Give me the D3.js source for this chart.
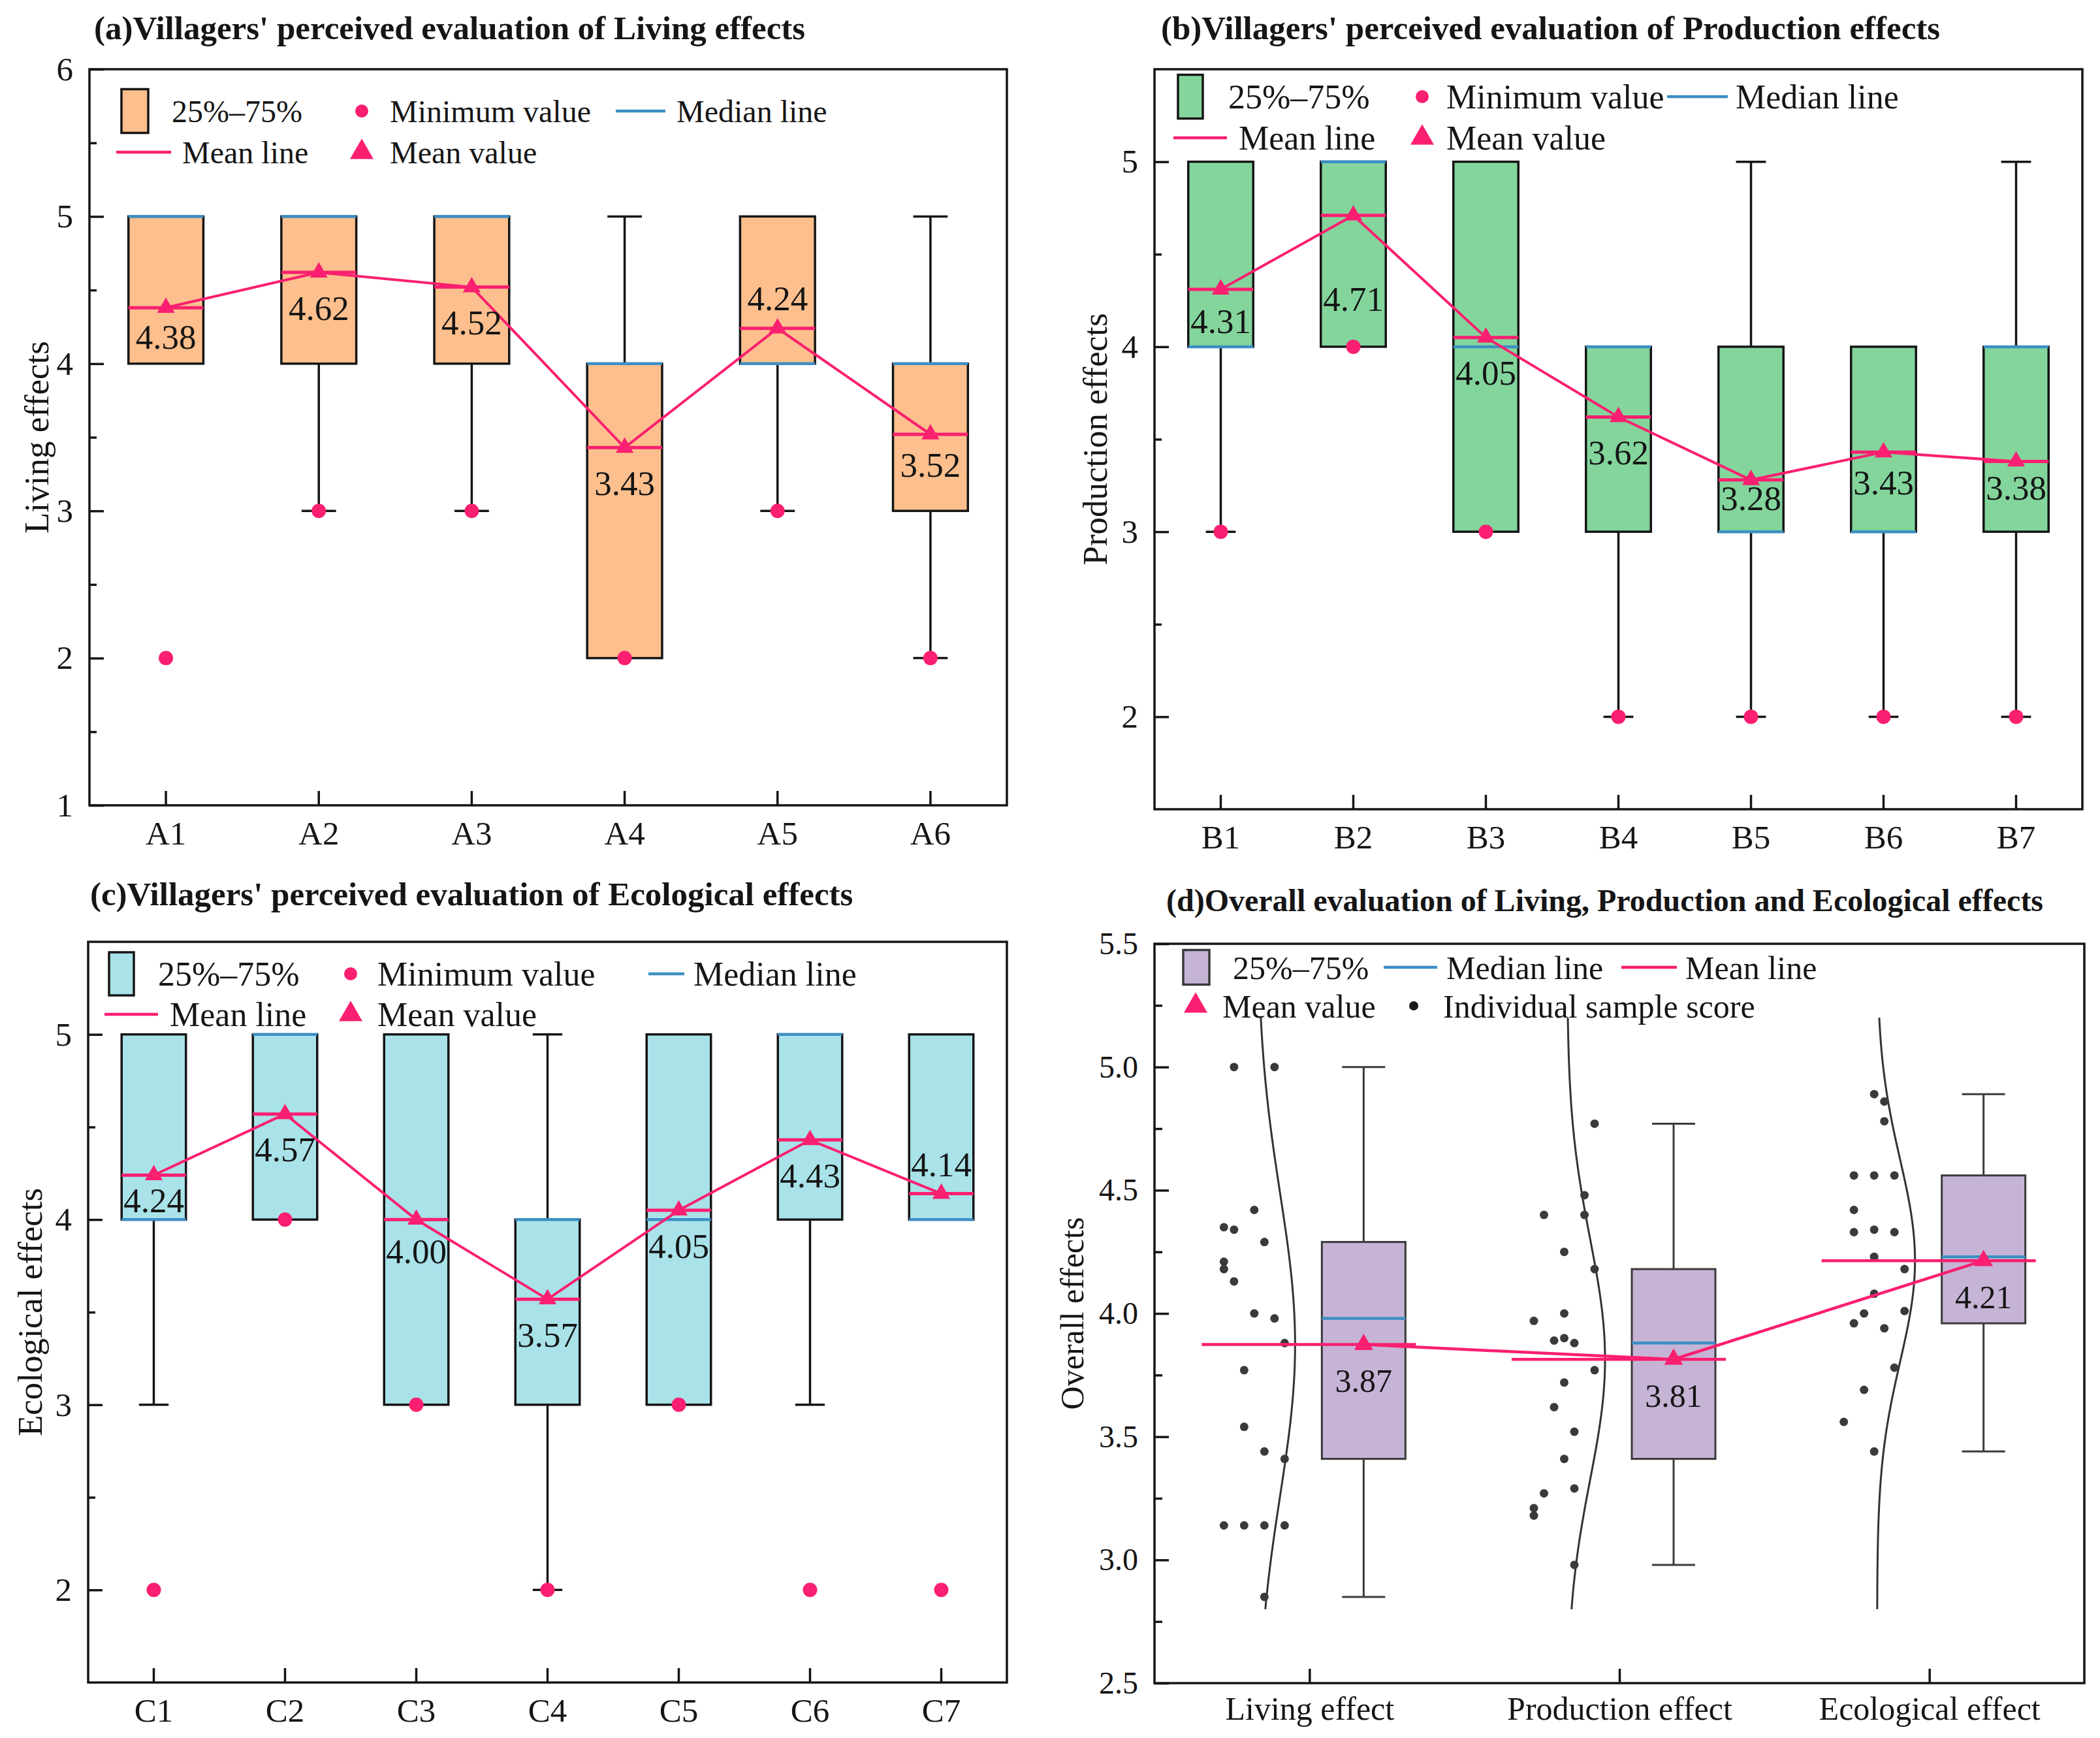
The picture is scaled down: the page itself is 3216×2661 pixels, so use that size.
<!DOCTYPE html>
<html>
<head>
<meta charset="utf-8">
<script src="https://cdn.jsdelivr.net/npm/d3@7"></script>
<style>
  body { margin: 0; background: #fff; }
  svg { font-family: "Liberation Serif", "Times New Roman", Times, "DejaVu Serif", serif; }
  text { fill: #151515; }
</style>
</head>
<body>
<svg id="chart" width="3216" height="2661"></svg>
<script>
// ---- data ----

// (a) living effects
const catsA = ['A1', 'A2', 'A3', 'A4', 'A5', 'A6'];
const q1A = [4, 4, 4, 2, 4, 3];
const q3A = [5, 5, 5, 4, 5, 4];
const medA = [5, 5, 5, 4, 4, 4];
const whiskLoA = [4, 3, 3, 2, 3, 2];
const whiskHiA = [5, 5, 5, 5, 5, 5];
const minA = [2, 3, 3, 2, 3, 2];
const meanA = [4.38, 4.62, 4.52, 3.43, 4.24, 3.52];

// (b) production effects
const catsB = ['B1', 'B2', 'B3', 'B4', 'B5', 'B6', 'B7'];
const q1B = [4, 4, 3, 3, 3, 3, 3];
const q3B = [5, 5, 5, 4, 4, 4, 4];
const medB = [4, 5, 4, 4, 3, 3, 4];
const whiskLoB = [3, 4, 3, 2, 2, 2, 2];
const whiskHiB = [5, 5, 5, 4, 5, 4, 5];
const minB = [3, 4, 3, 2, 2, 2, 2];
const meanB = [4.31, 4.71, 4.05, 3.62, 3.28, 3.43, 3.38];

// (c) ecological effects
const catsC = ['C1', 'C2', 'C3', 'C4', 'C5', 'C6', 'C7'];
const q1C = [4, 4, 3, 3, 3, 4, 4];
const q3C = [5, 5, 5, 4, 5, 5, 5];
const medC = [4, 5, 4, 4, 4, 5, 4];
const whiskLoC = [3, 4, 3, 2, 3, 3, 4];
const whiskHiC = [5, 5, 5, 5, 5, 5, 5];
const minC = [2, 4, 3, 2, 3, 2, 2];
const meanC = [4.24, 4.57, 4.00, 3.57, 4.05, 4.43, 4.14];

// (d) overall, individual sample scores
const groupsD = ['Living effect', 'Production effect', 'Ecological effect'];
const livingScores = [5.00, 5.00, 4.42, 4.35, 4.34, 4.29, 4.21, 4.18, 4.13, 4.00, 3.98,
  3.88, 3.77, 3.54, 3.44, 3.41, 3.14, 3.14, 3.14, 3.14, 2.85];
const productionScores = [4.77, 4.48, 4.40, 4.40, 4.25, 4.18, 4.00, 3.97, 3.89, 3.90, 3.88,
  3.77, 3.72, 3.62, 3.52, 3.41, 3.29, 3.27, 3.21, 3.18, 2.98];
const ecologicalScores = [4.89, 4.86, 4.78, 4.56, 4.56, 4.56, 4.42, 4.33, 4.33, 4.34, 4.23,
  4.18, 4.08, 4.00, 4.01, 3.94, 3.96, 3.78, 3.69, 3.56, 3.44];

// ---- drawing ----
const svg = d3.select('#chart');
const PINK = '#fa1f70';
const BLUE = '#3d8fc4';
const INK = '#151515';

function styleAxis(sel, size) {
  sel.attr('font-family', null).attr('font-size', size);
  sel.select('.domain').remove();
  sel.selectAll('line').attr('stroke', INK).attr('stroke-width', 3.5);
  sel.selectAll('text').attr('fill', INK);
}

function frameAndTitles(g, p) {
  g.append('rect')
    .attr('x', p.x0).attr('y', p.y0)
    .attr('width', p.x1 - p.x0).attr('height', p.y1 - p.y0)
    .attr('fill', 'none').attr('stroke', INK).attr('stroke-width', 3.5);
  g.append('text')
    .attr('x', p.tx).attr('y', p.ty)
    .attr('font-size', p.titleSize).attr('font-weight', 'bold')
    .text(p.title);
  g.append('text')
    .attr('transform', `translate(${p.ylx},${(p.y0 + p.y1) / 2}) rotate(-90)`)
    .attr('text-anchor', 'middle').attr('dy', '0.35em')
    .attr('font-size', p.yLabelSize)
    .text(p.yLabel);
}

function drawLegend(g, lg, fill, boxStroke) {
  const rowY = r => (r === 1 ? lg.r1 : lg.r2);
  lg.items.forEach(it => {
    const cy = rowY(it.row);
    if (it.type === 'box') {
      g.append('rect').attr('x', it.x).attr('y', cy - lg.sh / 2)
        .attr('width', lg.sw).attr('height', lg.sh)
        .attr('fill', fill).attr('stroke', boxStroke).attr('stroke-width', 3.5);
    } else if (it.type === 'dot') {
      g.append('circle').attr('cx', it.x).attr('cy', cy).attr('r', 10).attr('fill', PINK);
    } else if (it.type === 'sample') {
      g.append('circle').attr('cx', it.x).attr('cy', cy).attr('r', 7).attr('fill', '#1a1a1a');
    } else if (it.type === 'tri') {
      g.append('path').attr('d', d3.symbol(d3.symbolTriangle, 560)())
        .attr('transform', `translate(${it.x},${cy})`).attr('fill', PINK);
    } else {
      g.append('line').attr('x1', it.x).attr('x2', it.x2).attr('y1', cy).attr('y2', cy)
        .attr('stroke', it.type === 'median' ? BLUE : PINK).attr('stroke-width', 4.5);
    }
    g.append('text').attr('x', it.lx).attr('y', cy).attr('dy', '0.35em')
      .attr('font-size', lg.size).text(it.label);
  });
}

function boxPanel(p) {
  const g = svg.append('g');
  const x = d3.scaleBand().domain(p.cats).range([p.x0, p.x1]);
  const y = d3.scaleLinear().domain(p.yDomain).range([p.y1, p.y0]);
  const cx = c => x(c) + x.bandwidth() / 2;
  const bw = x.bandwidth() * 0.49;
  const cap = bw * 0.46;

  // whiskers
  p.cats.forEach((c, i) => {
    [[p.q1[i], p.lo[i]], [p.q3[i], p.hi[i]]].forEach(([from, to]) => {
      if (from === to) return;
      g.append('line').attr('x1', cx(c)).attr('x2', cx(c)).attr('y1', y(from)).attr('y2', y(to))
        .attr('stroke', INK).attr('stroke-width', 3.5);
      g.append('line').attr('x1', cx(c) - cap / 2).attr('x2', cx(c) + cap / 2)
        .attr('y1', y(to)).attr('y2', y(to)).attr('stroke', INK).attr('stroke-width', 3.5);
    });
  });

  // boxes
  g.selectAll('rect.box').data(p.cats).join('rect').attr('class', 'box')
    .attr('x', c => cx(c) - bw / 2).attr('width', bw)
    .attr('y', (c, i) => y(p.q3[i])).attr('height', (c, i) => y(p.q1[i]) - y(p.q3[i]))
    .attr('fill', p.fill).attr('stroke', INK).attr('stroke-width', 3.5);

  // median lines
  g.selectAll('line.med').data(p.cats).join('line').attr('class', 'med')
    .attr('x1', c => cx(c) - bw / 2).attr('x2', c => cx(c) + bw / 2)
    .attr('y1', (c, i) => y(p.med[i])).attr('y2', (c, i) => y(p.med[i]))
    .attr('stroke', BLUE).attr('stroke-width', 4.5);

  // mean lines
  g.selectAll('line.mean').data(p.cats).join('line').attr('class', 'mean')
    .attr('x1', c => cx(c) - bw / 2).attr('x2', c => cx(c) + bw / 2)
    .attr('y1', (c, i) => y(p.mean[i])).attr('y2', (c, i) => y(p.mean[i]))
    .attr('stroke', PINK).attr('stroke-width', 5);

  // connecting line through the means
  g.append('path')
    .attr('d', d3.line().x(c => cx(c)).y((c, i) => y(p.mean[i]))(p.cats))
    .attr('fill', 'none').attr('stroke', PINK).attr('stroke-width', 4);

  g.selectAll('path.tri').data(p.cats).join('path').attr('class', 'tri')
    .attr('d', d3.symbol(d3.symbolTriangle, 320)())
    .attr('transform', (c, i) => `translate(${cx(c)},${y(p.mean[i])})`)
    .attr('fill', PINK);

  g.selectAll('circle.min').data(p.cats).join('circle').attr('class', 'min')
    .attr('cx', c => cx(c)).attr('cy', (c, i) => y(p.min[i])).attr('r', 11)
    .attr('fill', PINK);

  g.selectAll('text.val').data(p.cats).join('text').attr('class', 'val')
    .attr('x', c => cx(c)).attr('y', (c, i) => y(p.mean[i]) + (p.labelDy[c] ?? 54))
    .attr('text-anchor', 'middle').attr('dy', '0.35em')
    .attr('font-size', 53)
    .text((c, i) => p.mean[i].toFixed(2));

  // axes, ticks pointing inward
  g.append('g').attr('transform', `translate(${p.x0},0)`)
    .call(d3.axisLeft(y).tickValues(p.yTicks).tickSize(-22).tickPadding(25).tickFormat(d3.format('d')))
    .call(styleAxis, 51);
  g.append('g').attr('transform', `translate(${p.x0},0)`)
    .call(d3.axisLeft(y).tickValues(p.yMinor).tickSize(-11).tickFormat(''))
    .call(styleAxis, 51);
  g.append('g').attr('transform', `translate(0,${p.y1})`)
    .call(d3.axisBottom(x).tickSize(-22).tickPadding(24))
    .call(styleAxis, 51);

  frameAndTitles(g, p);
  drawLegend(g, p.legend, p.fill, INK);
}

boxPanel({
  title: "(a)Villagers' perceived evaluation of Living effects", tx: 144, ty: 60, titleSize: 51,
  yLabel: 'Living effects', ylx: 55, yLabelSize: 53,
  x0: 137, x1: 1542, y0: 106, y1: 1233,
  yDomain: [1, 6], yTicks: [1, 2, 3, 4, 5, 6], yMinor: [1.5, 2.5, 3.5, 4.5, 5.5],
  fill: '#fdbf8d',
  cats: catsA, q1: q1A, q3: q3A, med: medA, lo: whiskLoA, hi: whiskHiA, min: minA, mean: meanA,
  labelDy: { A1: 44, A5: -46, A6: 46 },
  legend: {
    r1: 170, r2: 233, size: 48, sw: 41, sh: 67,
    items: [
      { type: 'box', x: 186, row: 1, lx: 263, label: '25%–75%' },
      { type: 'dot', x: 554, row: 1, lx: 597, label: 'Minimum value' },
      { type: 'median', x: 943, x2: 1019, row: 1, lx: 1036, label: 'Median line' },
      { type: 'mean', x: 178, x2: 262, row: 2, lx: 279, label: 'Mean line' },
      { type: 'tri', x: 554, row: 2, lx: 597, label: 'Mean value' }
    ]
  }
});

boxPanel({
  title: "(b)Villagers' perceived evaluation of Production effects", tx: 1778, ty: 60, titleSize: 51,
  yLabel: 'Production effects', ylx: 1676, yLabelSize: 53,
  x0: 1768, x1: 3189, y0: 106, y1: 1239,
  yDomain: [1.5, 5.5], yTicks: [2, 3, 4, 5], yMinor: [2.5, 3.5, 4.5],
  fill: '#83d59c',
  cats: catsB, q1: q1B, q3: q3B, med: medB, lo: whiskLoB, hi: whiskHiB, min: minB, mean: meanB,
  labelDy: { B1: 48, B2: 128, B5: 28, B6: 46, B7: 40 },
  legend: {
    r1: 148, r2: 211, size: 52, sw: 38, sh: 67,
    items: [
      { type: 'box', x: 1804, row: 1, lx: 1881, label: '25%–75%' },
      { type: 'dot', x: 2178, row: 1, lx: 2215, label: 'Minimum value' },
      { type: 'median', x: 2553, x2: 2646, row: 1, lx: 2658, label: 'Median line' },
      { type: 'mean', x: 1797, x2: 1879, row: 2, lx: 1897, label: 'Mean line' },
      { type: 'tri', x: 2178, row: 2, lx: 2215, label: 'Mean value' }
    ]
  }
});

boxPanel({
  title: "(c)Villagers' perceived evaluation of Ecological effects", tx: 138, ty: 1386, titleSize: 51,
  yLabel: 'Ecological effects', ylx: 45, yLabelSize: 53,
  x0: 135, x1: 1542, y0: 1442, y1: 2576,
  yDomain: [1.5, 5.5], yTicks: [2, 3, 4, 5], yMinor: [2.5, 3.5, 4.5],
  fill: '#a9e2e9',
  cats: catsC, q1: q1C, q3: q3C, med: medC, lo: whiskLoC, hi: whiskHiC, min: minC, mean: meanC,
  labelDy: { C1: 38, C3: 48, C7: -45 },
  legend: {
    r1: 1491, r2: 1553, size: 52, sw: 38, sh: 66,
    items: [
      { type: 'box', x: 167, row: 1, lx: 242, label: '25%–75%' },
      { type: 'dot', x: 537, row: 1, lx: 578, label: 'Minimum value' },
      { type: 'median', x: 993, x2: 1048, row: 1, lx: 1062, label: 'Median line' },
      { type: 'mean', x: 160, x2: 242, row: 2, lx: 260, label: 'Mean line' },
      { type: 'tri', x: 537, row: 2, lx: 578, label: 'Mean value' }
    ]
  }
});

// ---- panel (d) ----
(function overallPanel() {
  const p = {
    title: '(d)Overall evaluation of Living, Production and Ecological effects',
    tx: 1786, ty: 1395, titleSize: 48,
    yLabel: 'Overall effects', ylx: 1641, yLabelSize: 50,
    x0: 1768, x1: 3192, y0: 1445, y1: 2577
  };
  const g = svg.append('g');
  const samples = [livingScores, productionScores, ecologicalScores];
  const x = d3.scaleLinear().domain([0.5, 3.5]).range([p.x0, p.x1]);
  const y = d3.scaleLinear().domain([2.5, 5.5]).range([p.y1, p.y0]);
  const boxOff = 83, bw = 128, cap = 66;
  const fill = '#c6b4d6', edge = '#3a3a3a';

  const stats = samples.map(s => {
    const sorted = s.slice().sort(d3.ascending);
    return {
      q1: d3.quantile(sorted, 0.25), med: d3.quantile(sorted, 0.5), q3: d3.quantile(sorted, 0.75),
      lo: d3.min(s), hi: d3.max(s), mean: d3.mean(s), sd: d3.deviation(s)
    };
  });

  // normal distribution curves beside the dots
  const curveY = d3.range(2.8, 5.2001, 0.02);
  stats.forEach((st, i) => {
    const base = x(i + 1) - 80;
    const pts = curveY.map(v => [base + 58 * Math.exp(-0.5 * ((v - st.mean) / st.sd) ** 2), y(v)]);
    g.append('path').attr('d', d3.line()(pts))
      .attr('fill', 'none').attr('stroke', '#333').attr('stroke-width', 3);
  });

  // jittered sample dots (seeded, ties spread over columns)
  const rng = d3.randomLcg(0.37);
  samples.forEach((s, i) => {
    const counts = d3.rollup(s, v => v.length, d => d);
    const seen = new Map();
    s.forEach(v => {
      const n = counts.get(v);
      const k = seen.get(v) || 0;
      seen.set(v, k + 1);
      let col;
      if (n > 1) col = Math.round((k + 0.5) * 7 / n - 0.5);
      else col = Math.floor(rng() * 7);
      g.append('circle')
        .attr('cx', x(i + 1) - 131 + col * 15.5).attr('cy', y(v)).attr('r', 6.5)
        .attr('fill', '#3a3a3a');
    });
  });

  // whiskers and boxes
  stats.forEach((st, i) => {
    const c = x(i + 1) + boxOff;
    [[st.q1, st.lo], [st.q3, st.hi]].forEach(([from, to]) => {
      g.append('line').attr('x1', c).attr('x2', c).attr('y1', y(from)).attr('y2', y(to))
        .attr('stroke', edge).attr('stroke-width', 3);
      g.append('line').attr('x1', c - cap / 2).attr('x2', c + cap / 2).attr('y1', y(to)).attr('y2', y(to))
        .attr('stroke', edge).attr('stroke-width', 3);
    });
    g.append('rect').attr('x', c - bw / 2).attr('width', bw)
      .attr('y', y(st.q3)).attr('height', y(st.q1) - y(st.q3))
      .attr('fill', fill).attr('stroke', edge).attr('stroke-width', 3);
    g.append('line').attr('x1', c - bw / 2).attr('x2', c + bw / 2)
      .attr('y1', y(st.med)).attr('y2', y(st.med))
      .attr('stroke', BLUE).attr('stroke-width', 4.5);
  });

  // mean lines across each group
  stats.forEach((st, i) => {
    g.append('line').attr('x1', x(i + 1) - 165).attr('x2', x(i + 1) + 163)
      .attr('y1', y(st.mean)).attr('y2', y(st.mean))
      .attr('stroke', PINK).attr('stroke-width', 4.5);
  });
  g.append('path')
    .attr('d', d3.line().x((st, i) => x(i + 1) + boxOff).y(st => y(st.mean))(stats))
    .attr('fill', 'none').attr('stroke', PINK).attr('stroke-width', 4.5);
  stats.forEach((st, i) => {
    g.append('path').attr('d', d3.symbol(d3.symbolTriangle, 360)())
      .attr('transform', `translate(${x(i + 1) + boxOff},${y(st.mean)})`).attr('fill', PINK);
    g.append('text').attr('x', x(i + 1) + boxOff).attr('y', y(st.mean) + 55)
      .attr('text-anchor', 'middle').attr('dy', '0.35em').attr('font-size', 50)
      .text(st.mean.toFixed(2));
  });

  // axes
  g.append('g').attr('transform', `translate(${p.x0},0)`)
    .call(d3.axisLeft(y).tickValues(d3.range(2.5, 5.51, 0.5)).tickSize(-22).tickPadding(25).tickFormat(d3.format('.1f')))
    .call(styleAxis, 48);
  g.append('g').attr('transform', `translate(${p.x0},0)`)
    .call(d3.axisLeft(y).tickValues(d3.range(2.75, 5.5, 0.5)).tickSize(-12).tickFormat(''))
    .call(styleAxis, 48);
  g.append('g').attr('transform', `translate(0,${p.y1})`)
    .call(d3.axisBottom(x).tickValues([1, 2, 3]).tickSize(-22).tickPadding(20).tickFormat(i => groupsD[i - 1]))
    .call(styleAxis, 50);

  frameAndTitles(g, p);
  drawLegend(g, {
    r1: 1481, r2: 1540, size: 50, sw: 40, sh: 53,
    items: [
      { type: 'box', x: 1812, row: 1, lx: 1888, label: '25%–75%' },
      { type: 'median', x: 2119, x2: 2201, row: 1, lx: 2215, label: 'Median line' },
      { type: 'mean', x: 2483, x2: 2568, row: 1, lx: 2581, label: 'Mean line' },
      { type: 'tri', x: 1831, row: 2, lx: 1872, label: 'Mean value' },
      { type: 'sample', x: 2165, row: 2, lx: 2210, label: 'Individual sample score' }
    ]
  }, fill, edge);
})();
</script>
</body>
</html>
